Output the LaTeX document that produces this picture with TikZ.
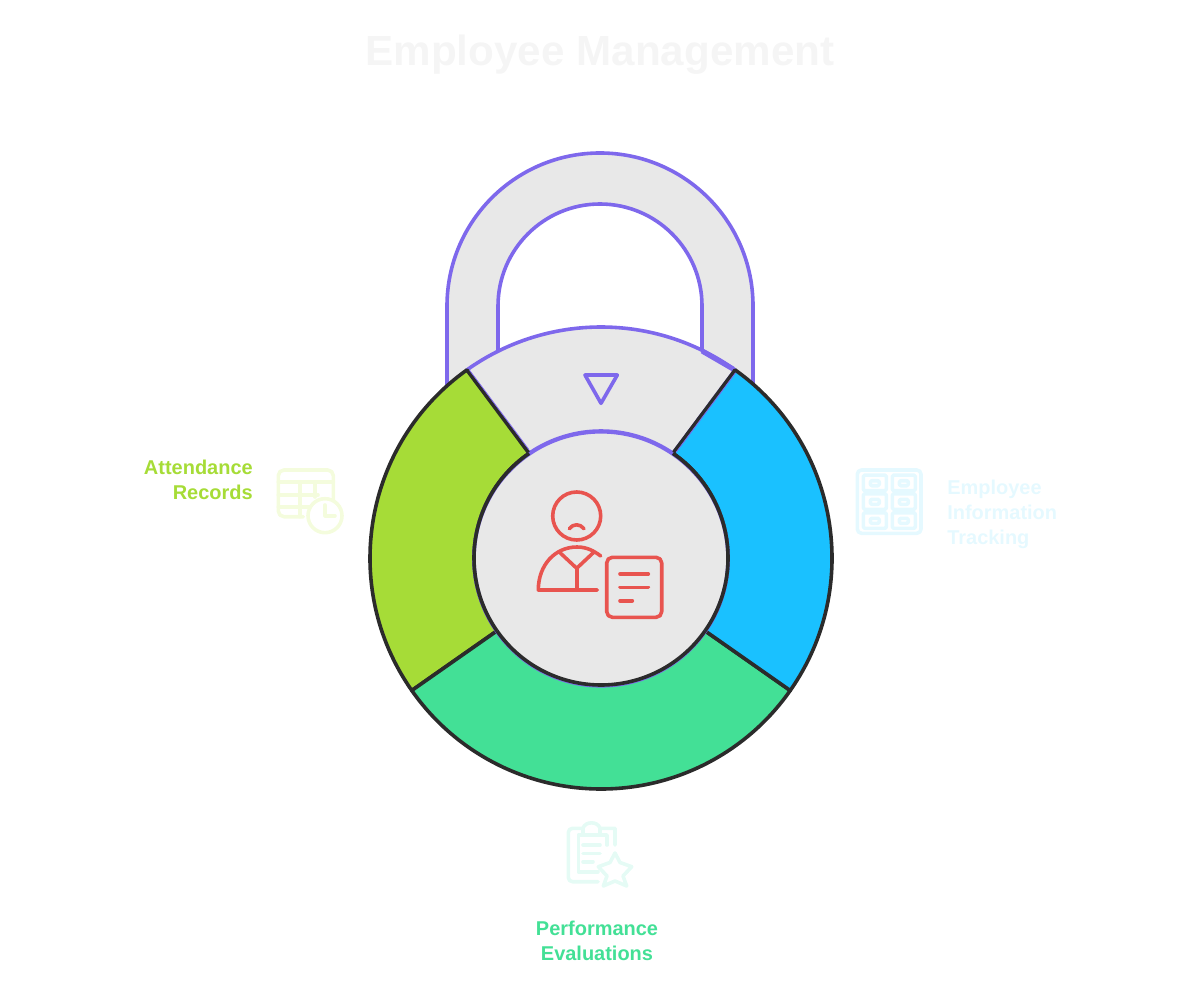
\documentclass[tikz,border=0pt]{standalone}
\usepackage{fontspec}
\setmainfont{Liberation Sans}
\usetikzlibrary{calc}
\definecolor{lockgray}{HTML}{E8E8E8}
\definecolor{lockpurple}{HTML}{7E68EC}
\definecolor{lockdark}{HTML}{2B2B2B}
\definecolor{limegreen}{HTML}{A6DC37}
\definecolor{skyblue}{HTML}{1AC1FF}
\definecolor{mintgreen}{HTML}{43E096}
\definecolor{iconred}{HTML}{E8544F}
\definecolor{faintlime}{HTML}{F4FCDD}
\definecolor{faintblue}{HTML}{E5F9FF}
\definecolor{faintmint}{HTML}{E5FBF5}
\definecolor{faintgray}{HTML}{F5F5F5}
\tikzset{
	lockline/.style={line width=3.6*.711pt,line join=round},
	iconline/.style={line width=3.6*.711pt,line cap=round,line join=round},
	textlabel/.style={font=\bfseries\fontsize{14.2}{17.8}\selectfont,inner sep=0pt}
}
\begin{document}
\begin{tikzpicture}[x=.025cm,y=.025cm]
	\useasboundingbox (0,0) rectangle (1200,982);
	
	% title
	\node[font=\bfseries\fontsize{30}{36}\selectfont,text=faintgray,inner sep=0pt] (title) at (600,927) {Employee Management};
	
	% draw shackle
	\fill[lockgray] (447,597) -- (447,676) arc[start angle=180,end angle=0,radius=153] -- (753,597) -- (702,632) -- (702,676) arc[start angle=0,end angle=180,radius=102] -- (498,632) -- cycle;
	\draw[lockline,lockpurple] (447,597) -- (447,676) arc[start angle=180,end angle=0,radius=153] -- (753,597);
	\draw[lockline,lockpurple] (498,630) -- (498,676) arc[start angle=180,end angle=0,radius=102] -- (702,632);
	
	% draw top segment
	\filldraw[lockline,fill=lockgray,draw=lockpurple] (601,424) ++(125.5:231) arc[start angle=125.5,end angle=54.5,radius=231] -- ($(601,424)+(55.5:127)$) arc[start angle=55.5,end angle=124.5,radius=127] -- cycle;
	\draw[lockpurple,line width=5*.711pt] (702,631) -- (733,613);
	
	% draw colored segments
	\filldraw[lockline,fill=limegreen,draw=lockdark] (601,424) ++(125.5:231) arc[start angle=125.5,end angle=215,radius=231] -- ($(601,424)+(215:127)$) arc[start angle=215,end angle=124.5,radius=127] -- cycle;
	\filldraw[lockline,fill=mintgreen,draw=lockdark] (601,424) ++(215:231) arc[start angle=215,end angle=325,radius=231] -- ($(601,424)+(325:127)$) arc[start angle=325,end angle=215,radius=127] -- cycle;
	\filldraw[lockline,fill=skyblue,draw=lockdark] (601,424) ++(54.5:231) arc[start angle=54.5,end angle=-35,radius=231] -- ($(601,424)+(-35:127)$) arc[start angle=-35,end angle=55.5,radius=127] -- cycle;
	
	% thin purple edges beside the separators
	\draw[lockpurple,line width=.8*.711pt] ($(601,424)+(125.5:229)+(1.6,1.2)$) -- ($(601,424)+(124.5:130)+(1.6,1.2)$);
	\draw[lockpurple,line width=.8*.711pt] ($(601,424)+(54.5:229)+(1.6,-1.2)$) -- ($(601,424)+(55.5:130)+(1.6,-1.2)$);
	
	% draw center disc
	\fill[lockgray] (601,424) circle[radius=127];
	\draw[lockline,lockpurple] (601,423.2) circle[radius=127];
	\draw[lockline,lockdark] (601,424) ++(124.5:127) arc[start angle=124.5,end angle=215,radius=127];
	\draw[lockline,lockdark] (601,424) ++(215:127) arc[start angle=215,end angle=325,radius=127];
	\draw[lockline,lockdark] (601,424) ++(325:127) arc[start angle=325,end angle=415.5,radius=127];
	
	% triangle pointer
	\draw[iconline,lockpurple] (585,607) -- (617.3,607) -- (601,578.7) -- cycle;
	
	% person icon
	\draw[iconline,iconred] (576.7,466) circle[radius=24];
	\draw[iconline,iconred] (569.3,453.3) .. controls (573,458.5) and (580,458.5) .. (584,453.3);
	\draw[iconline,iconred] (597.3,392) -- (538.3,392) .. controls (538.3,417) and (555,435) .. (577,435) .. controls (587,435) and (594,431) .. (600.7,426);
	\draw[iconline,iconred] (560,429.3) -- (576.7,413.7) -- (593.3,429.3);
	\draw[iconline,iconred] (576.7,413.7) -- (576.7,392);
	\draw[iconline,iconred,rounded corners=4] (606.7,364.7) rectangle (661.7,424.7);
	\draw[iconline,iconred] (620,408) -- (648.3,408);
	\draw[iconline,iconred] (620,394.7) -- (648.3,394.7);
	\draw[iconline,iconred] (620,381.3) -- (632.3,381.3);
	
	% attendance icon
	\begin{scope}[iconline,faintlime]
		\draw[rounded corners=4] (303.3,465.3) -- (278.3,465.3) -- (278.3,512) -- (333.3,512) -- (333.3,482);
		\draw (278.3,500.3) -- (333.3,500.3);
		\draw (278.3,487) -- (318,487);
		\draw (278.3,475.3) -- (310,475.3);
		\draw (300,500.3) -- (300,465.3);
		\draw (315,500.3) -- (315,485);
		\draw (325,466.3) circle[radius=17];
		\draw (325,477) -- (325,466.3) -- (335,466.3);
	\end{scope}
	\node[textlabel,text=limegreen,align=right,anchor=north east] (attendance) at (253,522) {Attendance\\Records};
	
	% employee icon
	\begin{scope}[iconline,faintblue]
		\draw[rounded corners=3] (857.3,448.7) rectangle (921,512);
		\foreach \col in {863.3,892.3}
		\foreach \row in {453.7,472.7,491.3} {
			\draw[rounded corners=1] (\col,\row) rectangle ++(23,15.6);
			\draw[rounded corners=1] (\col+7,\row+5) rectangle ++(9,5);
		}
	\end{scope}
	\node[textlabel,text=faintblue,align=left,anchor=north west] (employee) at (947,502) {Employee\\Information\\Tracking};
	
	% performance icon
	\begin{scope}[iconline,faintmint]
		\draw[rounded corners=3] (598,100.3) -- (568.3,100.3) -- (568.3,153.7) -- (583,153.7);
		\draw (583,153.7) .. controls (585,161) and (598,161) .. (600,153.7) -- (615,153.7) -- (615,137);
		\draw (583,153.7) -- (583,147) -- (600,147) -- (600,153.7);
		\draw (598,110.3) -- (578.3,110.3) -- (578.3,147) -- (583,147);
		\draw (600,147) -- (607,147) -- (607,137);
		\draw (583,137) -- (600,137);
		\draw (583,128.7) -- (600,128.7);
		\draw (583,120.3) -- (593,120.3);
		\draw (615,129) -- (620,119.5) -- (631.7,115.3) -- (623,106) -- (626.7,96) -- (615,101) -- (603.3,96) -- (607,106) -- (598.3,115.3) -- (610,119.5) -- cycle;
	\end{scope}
	\node[textlabel,text=mintgreen,align=center,anchor=north] (performance) at (597,61) {Performance\\Evaluations};
\end{tikzpicture}
\end{document}
